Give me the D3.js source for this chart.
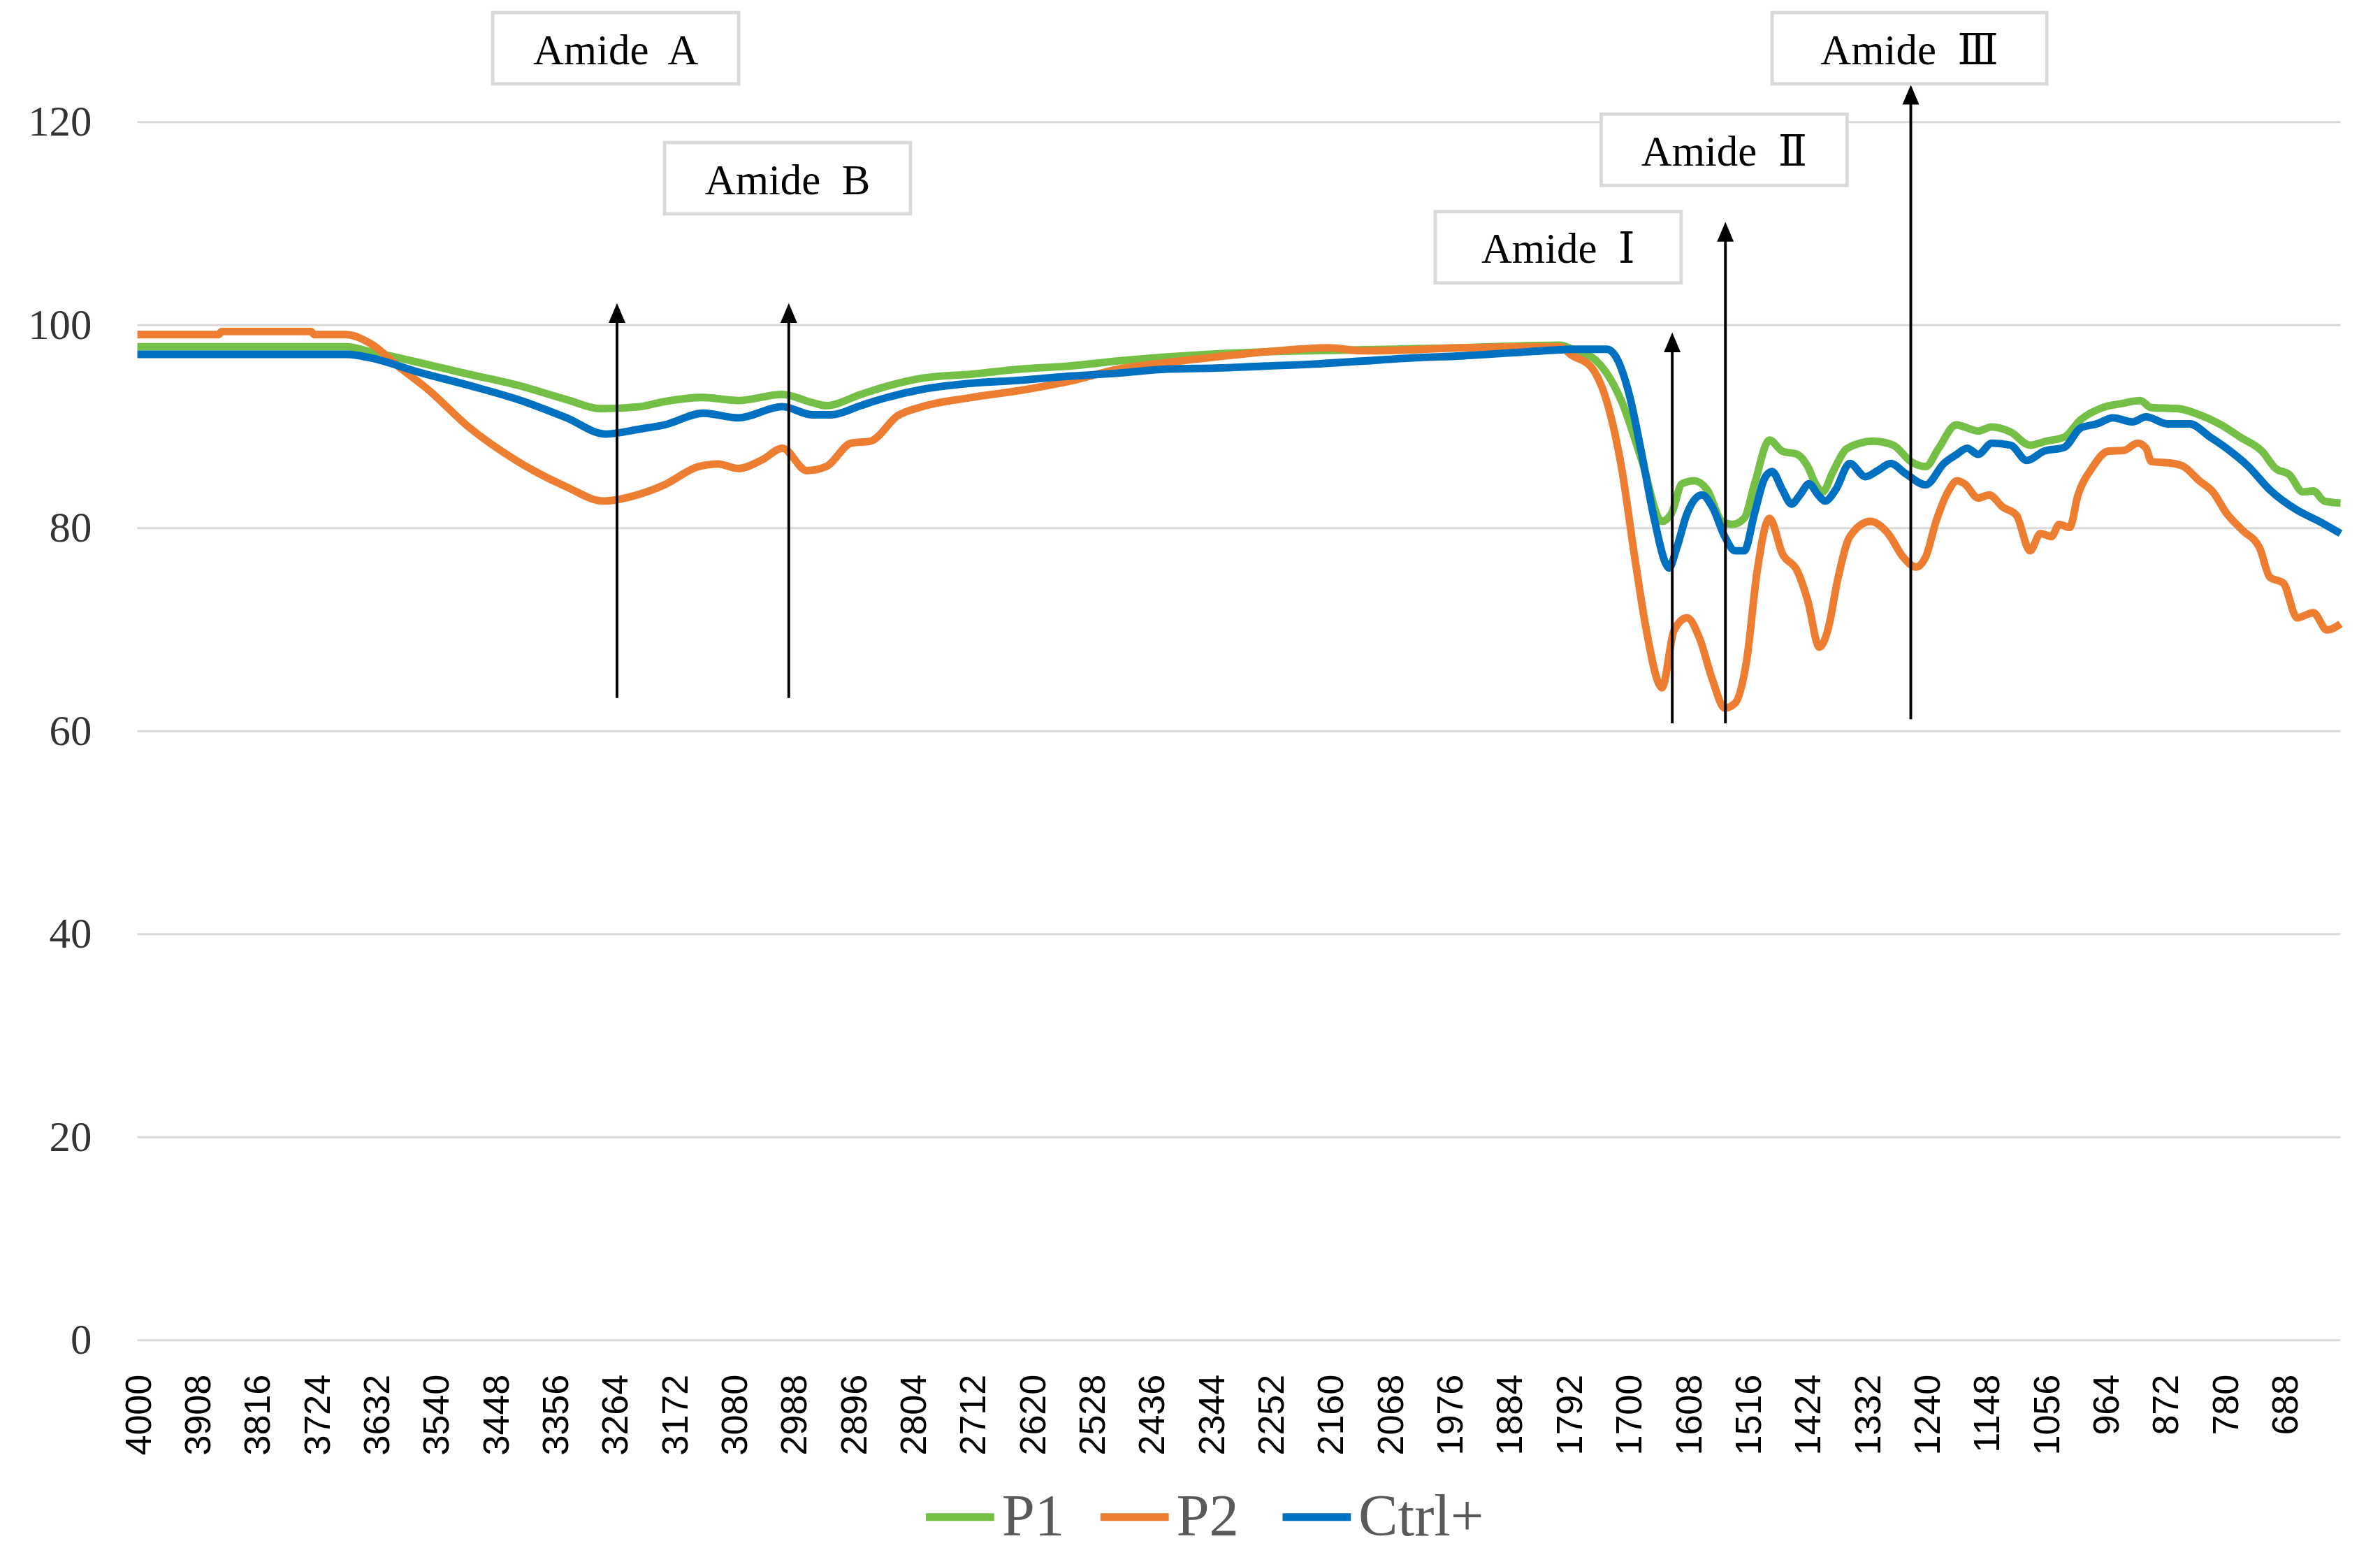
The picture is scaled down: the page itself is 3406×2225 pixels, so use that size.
<!DOCTYPE html>
<html>
<head>
<meta charset="utf-8">
<script src="https://cdn.jsdelivr.net/npm/d3@7/dist/d3.min.js"></script>
<style>
  html, body { margin: 0; padding: 0; background: #ffffff; }
  svg { display: block; }
</style>
</head>
<body>
<div id="chart"></div>
<script>
// ---------------- DATA ----------------
const seriesNames = ["P1", "P2", "Ctrl+"];
const seriesColors = ["#74BF45", "#ED7D31", "#0070C0"];

// [wavenumber (cm-1), transmittance (%)]
const p1Data = [
  [4000, 97.8], [3678, 97.8], [3640, 97.3], [3566, 96.25], [3489, 95.1], [3413, 94.0],
  [3338, 92.6], [3285, 91.7], [3224, 91.9], [3187, 92.4], [3127, 92.8], [3073, 92.5],
  [3005, 93.1], [2959, 92.3], [2937, 92.0], [2884, 93.1], [2865, 93.5], [2789, 94.7],
  [2713, 95.1], [2638, 95.6], [2562, 95.9], [2486, 96.4], [2411, 96.8], [2259, 97.3],
  [2108, 97.5], [1957, 97.7], [1805, 97.95], [1788, 97.6], [1749, 96.4], [1710, 92.4],
  [1679, 86.6], [1648, 80.6], [1633, 81.4], [1617, 84.3], [1598, 84.6], [1578, 83.7],
  [1555, 80.6], [1539, 80.3], [1521, 80.9], [1505, 84.3], [1482, 88.6], [1462, 87.5],
  [1439, 87.2], [1423, 86.0], [1411, 84.3], [1400, 83.5], [1384, 85.5], [1362, 87.8],
  [1322, 88.5], [1291, 88.1], [1264, 86.5], [1241, 86.0], [1221, 87.8], [1194, 90.1],
  [1160, 89.5], [1139, 89.9], [1110, 89.4], [1080, 88.1], [1055, 88.5], [1027, 88.9],
  [1002, 90.6], [968, 91.8], [939, 92.2], [910, 92.5], [893, 91.8], [851, 91.7],
  [819, 91.1], [785, 90.1], [756, 88.9], [722, 87.5], [701, 85.8], [680, 85.2],
  [659, 83.5], [643, 83.6], [626, 82.6], [601, 82.4]
];

const p2Data = [
  [4000, 99.0], [3875, 99.0], [3870, 99.3], [3732, 99.3], [3727, 99.0], [3678, 99.0],
  [3640, 98.1], [3596, 95.8], [3550, 93.5], [3489, 89.9], [3413, 86.5], [3338, 84.0],
  [3281, 82.6], [3224, 83.3], [3187, 84.2], [3134, 86.0], [3104, 86.25], [3073, 85.8],
  [3035, 86.7], [3005, 87.8], [2967, 85.6], [2937, 86.0], [2899, 88.3], [2869, 88.5],
  [2827, 91.0], [2789, 91.9], [2713, 92.8], [2638, 93.5], [2562, 94.4], [2486, 95.6],
  [2411, 96.25], [2335, 96.8], [2259, 97.3], [2162, 97.7], [2108, 97.4], [2032, 97.5],
  [1957, 97.7], [1805, 97.8], [1788, 97.0], [1757, 95.8], [1733, 92.4], [1710, 85.8],
  [1690, 77.1], [1672, 69.9], [1652, 64.5], [1648, 64.2], [1629, 69.9], [1609, 71.1],
  [1590, 69.1], [1570, 65.0], [1551, 62.2], [1535, 62.7], [1517, 67.0], [1501, 75.7],
  [1482, 80.9], [1462, 77.4], [1439, 75.7], [1423, 72.8], [1405, 68.2], [1392, 69.9],
  [1376, 75.1], [1358, 79.1], [1326, 80.6], [1299, 79.4], [1276, 77.1], [1256, 76.1],
  [1241, 77.1], [1225, 80.6], [1205, 83.7], [1193, 84.6], [1181, 84.3], [1160, 82.9],
  [1143, 83.2], [1122, 82.0], [1101, 81.2], [1080, 77.7], [1064, 79.4], [1047, 79.1],
  [1035, 80.3], [1019, 80.0], [1006, 83.2], [985, 85.8], [960, 87.5], [935, 87.6],
  [914, 88.3], [901, 87.8], [893, 86.5], [859, 86.3], [843, 86.0], [819, 84.6],
  [798, 83.5], [777, 81.4], [752, 79.7], [726, 78.0], [710, 75.1], [689, 74.5],
  [668, 71.1], [643, 71.6], [622, 69.9], [601, 70.5]
];

const ctrlData = [
  [4000, 97.05], [3678, 97.05], [3640, 96.7], [3566, 95.3], [3489, 94.0], [3413, 92.6],
  [3338, 90.8], [3278, 89.2], [3224, 89.7], [3187, 90.1], [3127, 91.25], [3073, 90.8],
  [3005, 91.9], [2959, 91.1], [2929, 91.1], [2884, 92.0], [2865, 92.4], [2789, 93.6],
  [2713, 94.2], [2638, 94.5], [2562, 94.9], [2486, 95.2], [2411, 95.6], [2335, 95.7],
  [2259, 95.9], [2184, 96.1], [2108, 96.4], [2032, 96.7], [1957, 96.9], [1881, 97.2],
  [1805, 97.5], [1788, 97.55], [1733, 97.55], [1718, 96.7], [1698, 93.0], [1679, 87.2],
  [1660, 80.9], [1641, 76.3], [1637, 76.0], [1625, 78.0], [1609, 81.4], [1586, 83.2],
  [1570, 82.0], [1551, 79.1], [1535, 77.7], [1521, 77.7], [1505, 81.4], [1489, 84.9],
  [1478, 85.5], [1462, 83.7], [1448, 82.3], [1435, 83.2], [1421, 84.3], [1407, 83.2],
  [1396, 82.6], [1380, 83.7], [1358, 86.3], [1334, 85.0], [1315, 85.6], [1295, 86.3],
  [1272, 85.3], [1241, 84.2], [1213, 86.3], [1193, 87.2], [1177, 87.8], [1160, 87.2],
  [1139, 88.3], [1110, 88.1], [1085, 86.6], [1059, 87.5], [1027, 87.9], [1002, 89.8],
  [977, 90.2], [952, 90.8], [922, 90.4], [901, 90.9], [868, 90.2], [834, 90.2],
  [802, 88.9], [777, 87.8], [743, 86.0], [710, 83.7], [668, 81.7], [634, 80.6],
  [601, 79.4]
];

const xTickLabels = [4000, 3908, 3816, 3724, 3632, 3540, 3448, 3356, 3264, 3172, 3080,
  2988, 2896, 2804, 2712, 2620, 2528, 2436, 2344, 2252, 2160, 2068, 1976, 1884, 1792,
  1700, 1608, 1516, 1424, 1332, 1240, 1148, 1056, 964, 872, 780, 688];
const yTickLabels = [0, 20, 40, 60, 80, 100, 120];

// annotations: label, arrow wavenumber, arrow from value, arrow to value, label centre (wavenumber, value)
const annoLabels = ["Amide A", "Amide B", "Amide \u2160", "Amide \u2161", "Amide \u2162"];
const annoArrowWn = [3260, 2995, 1632, 1550, 1264];
const annoArrowFrom = [63.2, 63.2, 60.7, 60.7, 61.1];
const annoArrowTo = [102.1, 102.1, 99.2, 110.1, 123.6];
const annoBoxWn = [3262, 2997, 1808, 1552, 1266];
const annoBoxVal = [127.2, 114.4, 107.6, 117.2, 127.2];

// ---------------- LAYOUT ----------------
const VW = 1568, VH = 1025;
const plot = { left: 90.5, right: 1542, top: 80, bottom: 883 };

const svg = d3.select("#chart").append("svg")
  .attr("width", 3406).attr("height", 2225)
  .attr("viewBox", `0 0 ${VW} ${VH}`)
  .attr("preserveAspectRatio", "none");

svg.append("rect").attr("width", VW).attr("height", VH).attr("fill", "#fff");

const x = d3.scaleLinear().domain([4000, 601]).range([plot.left, plot.right]);
const y = d3.scaleLinear().domain([0, 120]).range([plot.bottom, plot.top]);

// Y axis with gridlines
const yAxis = d3.axisLeft(y)
  .tickValues(yTickLabels)
  .tickSize(-(plot.right - plot.left))
  .tickPadding(30)
  .tickFormat(d3.format("d"));
const gy = svg.append("g").attr("transform", `translate(${plot.left},0)`).call(yAxis);
gy.select(".domain").remove();
gy.selectAll(".tick line").attr("stroke", "#d9d9d9").attr("stroke-width", 1.4);
gy.selectAll(".tick text")
  .attr("font-family", "'Liberation Serif', 'DejaVu Serif', serif")
  .attr("font-size", 28)
  .attr("fill", "#333");

// X axis labels
const xAxis = d3.axisBottom(x).tickValues(xTickLabels).tickSize(0).tickFormat(d3.format("d"));
const gx = svg.append("g").attr("transform", `translate(0,${plot.bottom})`).call(xAxis);
gx.select(".domain").remove();
gx.selectAll(".tick text")
  .attr("font-family", "'Liberation Sans', Arial, sans-serif")
  .attr("font-size", 24)
  .attr("fill", "#000")
  .attr("text-anchor", "end")
  .attr("dy", null)
  .attr("y", 0)
  .attr("dominant-baseline", "central")
  .attr("transform", "translate(0,23) rotate(-90)");

// Lines
const line = d3.line()
  .x(d => x(d[0]))
  .y(d => y(d[1]))
  .curve(d3.curveMonotoneX);

const allSeries = [p1Data, p2Data, ctrlData];
svg.append("g").selectAll("path")
  .data(allSeries)
  .join("path")
  .attr("d", d => line(d))
  .attr("fill", "none")
  .attr("stroke", (d, i) => seriesColors[i])
  .attr("stroke-width", 5)
  .attr("stroke-linejoin", "round")
  .attr("stroke-linecap", "butt");

// Annotations
const ann = svg.append("g");
annoLabels.forEach((lab, i) => {
  ann.append("line")
    .attr("x1", x(annoArrowWn[i])).attr("x2", x(annoArrowWn[i]))
    .attr("y1", y(annoArrowFrom[i])).attr("y2", y(annoArrowTo[i]) + 6)
    .attr("stroke", "#000").attr("stroke-width", 1.8);
  ann.append("path")
    .attr("d", `M${x(annoArrowWn[i])},${y(annoArrowTo[i])} l5.5,13 l-11,0 Z`)
    .attr("fill", "#000");

  const cx = x(annoBoxWn[i]), cy = y(annoBoxVal[i]);
  const w = i === 4 ? 181 : 162, h = 47;
  ann.append("rect")
    .attr("x", cx - w / 2).attr("y", cy - h / 2)
    .attr("width", w).attr("height", h)
    .attr("fill", "#fff")
    .attr("stroke", "#d9d9d9").attr("stroke-width", 2.2);
  ann.append("text")
    .attr("x", cx).attr("y", cy + 1)
    .attr("text-anchor", "middle")
    .attr("dominant-baseline", "central")
    .attr("font-family", "'Liberation Serif', 'DejaVu Serif', serif")
    .attr("font-size", 28)
    .attr("word-spacing", 7)
    .attr("fill", "#000")
    .text(lab);
});

// Legend
const legendSwatchX = [610, 725, 845];
const legend = svg.append("g");
seriesNames.forEach((name, i) => {
  legend.append("line")
    .attr("x1", legendSwatchX[i]).attr("x2", legendSwatchX[i] + 45)
    .attr("y1", 1000).attr("y2", 1000)
    .attr("stroke", seriesColors[i]).attr("stroke-width", 5);
  legend.append("text")
    .attr("x", legendSwatchX[i] + 50).attr("y", 1012)
    .attr("font-family", "'Liberation Serif', 'DejaVu Serif', serif")
    .attr("font-size", 39)
    .attr("fill", "#595959")
    .text(name);
});
</script>
</body>
</html>
